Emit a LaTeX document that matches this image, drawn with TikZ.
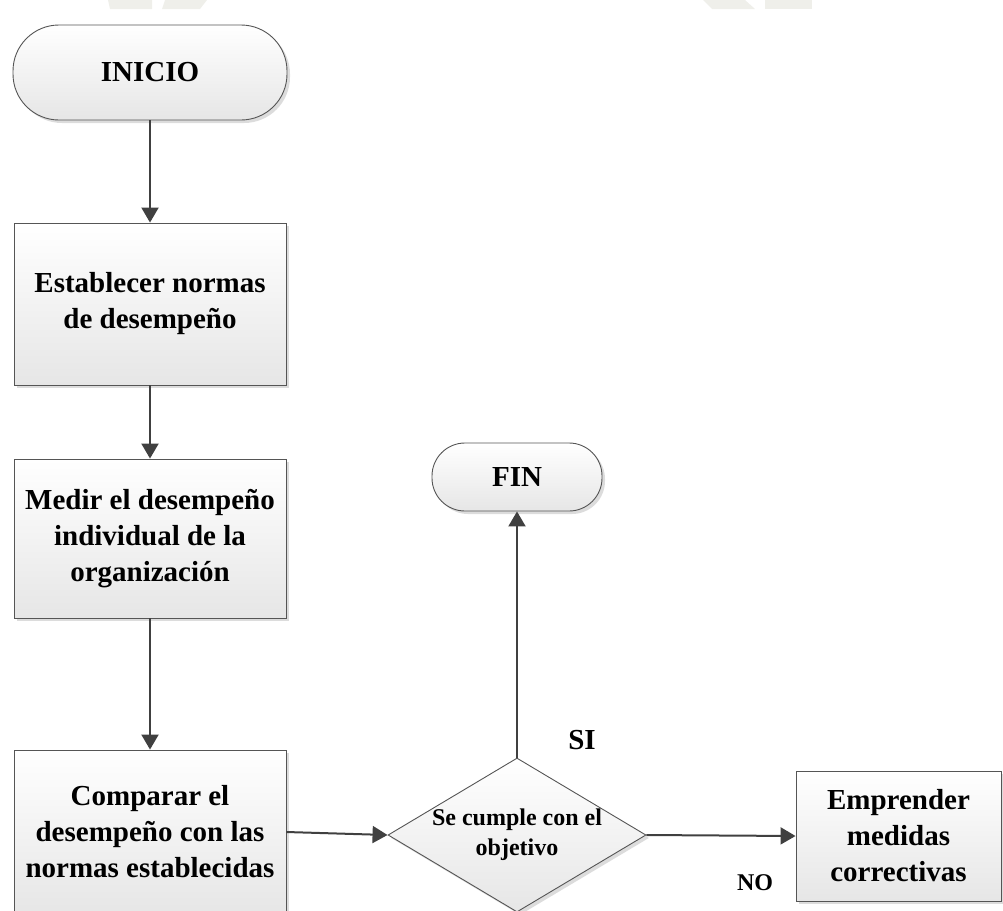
\documentclass[tikz,border=0pt]{standalone}
\usepackage{fontspec}
\setmainfont{Liberation Serif}
\usetikzlibrary{shapes.geometric,shadows,arrows.meta}

\definecolor{edge}{HTML}{555555}
\definecolor{flow}{HTML}{404040}
\definecolor{boxgrey}{HTML}{E6E6E6}
\definecolor{faint}{HTML}{EFEFEA}

\begin{document}
\begin{tikzpicture}[x=1pt,y=-1pt,
  shade/.style={draw=edge, line width=0.9pt, top color=white, bottom color=boxgrey,
    drop shadow={shadow xshift=3pt, shadow yshift=-3pt, fill=black!30, opacity=0.45}},
  bigtext/.style={font=\bfseries\fontsize{29}{36}\selectfont},
  stepbox/.style={shade, rectangle, minimum width=272pt, inner sep=0pt, align=center, bigtext},
  terminal/.style={shade, rectangle, inner sep=0pt, align=center, bigtext},
  decision/.style={shade, diamond, minimum width=258pt, minimum height=154pt, inner sep=0pt},
  flowline/.style={draw=flow, line width=2pt},
  arrow/.style={flowline, -{Triangle[length=15pt,width=17pt]}},
  tag/.style={font=\bfseries\fontsize{24}{30}\selectfont, align=center}
]
\useasboundingbox (0,0) rectangle (1003,910);

% faint patches along the top edge
\fill[faint] (108,0) -- (152,0) -- (152,9) -- (110,9) -- cycle;
\fill[faint] (165,0) -- (207,0) -- (200,9) -- (162,9) -- cycle;
\fill[faint] (703,0) -- (745,0) -- (755,9) -- (712,9) -- cycle;
\fill[faint] (765,0) -- (812,0) -- (812,9) -- (765,9) -- cycle;

% start / end terminals
\node[terminal, minimum width=274pt, minimum height=95pt, rounded corners=46pt]
  (inicio) at (150,72.5) {INICIO};
\node[terminal, minimum width=170pt, minimum height=68pt, rounded corners=33pt]
  (fin) at (517,477) {FIN};

% process steps
\node[stepbox, minimum height=162pt] (normas) at (150,304)
  {Establecer normas\\de desempeño};
\node[stepbox, minimum height=159pt] (medir) at (150,538.5)
  {Medir el desempeño\\individual de la\\organización};
\node[stepbox, minimum height=164pt] (comparar) at (150,832)
  {Comparar el\\desempeño con las\\normas establecidas};
\node[stepbox, minimum width=205pt, minimum height=130pt] (medidas) at (898.5,836)
  {Emprender\\medidas\\correctivas};

% decision
\node[decision] (cumple) at (517,835) {};
\node[font=\bfseries\fontsize{24}{30}\selectfont, align=center] (pregunta) at (cumple)
  {Se cumple con el\\objetivo};

% connectors
\draw[arrow] (inicio) -- (normas);
\draw[arrow] (normas) -- (medir);
\draw[arrow] (medir) -- (comparar);
\draw[arrow] (comparar.east) -- (cumple.west);
\draw[arrow] (cumple.north) -- (fin.south);
\draw[arrow] (cumple.east) -- (medidas.west);

% branch labels
\node[tag, font=\bfseries\fontsize{29}{34}\selectfont] (si) at (582,740) {SI};
\node[tag] (no) at (755,883) {NO};
\end{tikzpicture}
\end{document}
